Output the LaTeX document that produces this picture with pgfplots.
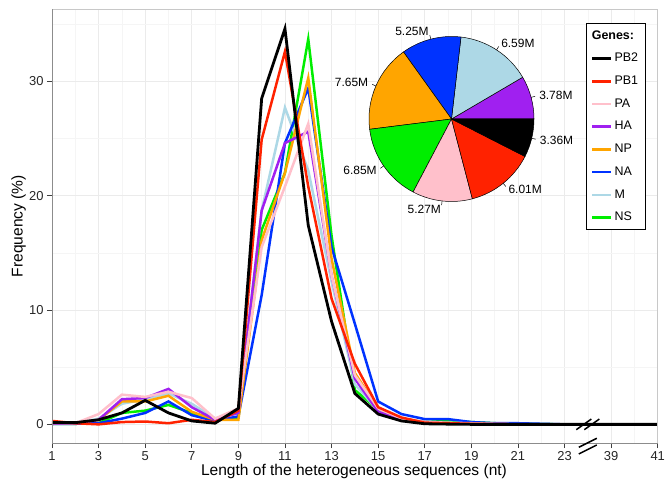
\documentclass[border=0pt]{standalone}
\usepackage{pgfplots}
\usepackage{pgfplotstable}
\pgfplotsset{compat=1.18}
\usepackage{fontspec}
\setmainfont{Liberation Sans}
\usetikzlibrary{calc}

\definecolor{cPB2}{HTML}{000000}
\definecolor{cPB1}{HTML}{FF2200}
\definecolor{cPA}{HTML}{FFC0CB}
\definecolor{cHA}{HTML}{A020F0}
\definecolor{cNP}{HTML}{FFA500}
\definecolor{cNA}{HTML}{0033FF}
\definecolor{cM}{HTML}{ADD8E6}
\definecolor{cNS}{HTML}{00EE00}
\definecolor{gridmaj}{HTML}{EBEBEB}
\definecolor{gridmin}{HTML}{F5F5F5}
\definecolor{frameg}{HTML}{C8C8C8}
\definecolor{axisg}{HTML}{8C8C8C}

% p = plotting position (25 -> 39 nt, 27 -> 41 nt)
\pgfplotstableread{
p  PB2  PB1  PA   HA   NP   NA   M    NS
1  0.15 0.30 0.10 0.05 0.05 0.05 0.05 0.05
2  0.15 0.10 0.10 0.10 0.10 0.05 0.10 0.05
3  0.40 0.00 0.90 0.40 0.40 0.10 0.50 0.10
4  1.00 0.20 2.60 2.20 2.00 0.50 1.80 1.00
5  2.10 0.25 2.40 2.30 2.00 1.00 2.20 1.20
6  1.00 0.10 2.85 3.10 2.50 2.00 2.70 1.70
7  0.30 0.40 2.30 1.50 1.10 0.80 1.80 1.00
8  0.10 0.20 0.50 0.40 0.40 0.30 0.50 0.40
9  1.40 1.20 1.40 1.00 0.40 0.70 1.20 0.60
10 28.5 24.9 15.5 18.7 16.1 11.3 18.7 17.0
11 34.6 32.6 20.8 24.6 22.0 24.6 27.7 22.0
12 17.4 20.8 26.3 25.6 30.3 29.4 22.2 33.7
13 9.0  11.0 13.0 13.0 14.5 15.5 12.5 16.5
14 2.7  5.3  4.3  4.0  4.5  8.8  3.5  3.0
15 0.9  1.5  1.4  1.1  1.4  2.0  1.2  1.3
16 0.3  0.6  0.5  0.4  0.5  0.9  0.4  0.4
17 0.05 0.15 0.20 0.20 0.20 0.46 0.15 0.20
18 0.02 0.10 0.15 0.10 0.10 0.46 0.10 0.30
19 0.00 0.05 0.10 0.05 0.05 0.20 0.05 0.20
20 0.00 0.02 0.05 0.02 0.02 0.10 0.02 0.10
21 0.00 0.00 0.02 0.00 0.00 0.10 0.00 0.05
22 0.00 0.00 0.00 0.00 0.00 0.05 0.00 0.02
23 0.00 0.00 0.00 0.00 0.00 0.00 0.00 0.00
25 0.00 0.00 0.00 0.00 0.00 0.00 0.00 0.00
27 0.00 0.00 0.00 0.00 0.00 0.00 0.00 0.00
}\freq

\newcommand\piefont{\fontsize{12}{14}\selectfont}
% start angle, end angle, colour, label, anchor
\newcommand\slice[5]{%
  \filldraw[fill=#3, draw=black, line width=0.5bp] (axis cs:0,0) -- (axis cs:{cos(#1)},{sin(#1)}) arc[start angle=#1, end angle=#2, radius=82.5bp] -- cycle;
  \draw[black, line width=0.5bp] (axis cs:{cos((#1+#2)/2)},{sin((#1+#2)/2)}) -- (axis cs:{1.05*cos((#1+#2)/2)},{1.05*sin((#1+#2)/2)});
  \node[anchor=#5, inner sep=0pt, font=\piefont] at (axis cs:{1.1*cos((#1+#2)/2)},{1.1*sin((#1+#2)/2)}) {#4};
}

\begin{document}
\begin{tikzpicture}
\useasboundingbox (0,0) rectangle (665bp,484bp);
% pie values (millions): HA M NA NP NS PA PB1 PB2
\pgfmathsetmacro\pieTot{3.78+6.59+5.25+7.65+6.85+5.27+6.01+3.36}
\pgfmathsetmacro\aA{0}
\pgfmathsetmacro\aB{\aA+360*3.78/\pieTot}
\pgfmathsetmacro\aC{\aB+360*6.59/\pieTot}
\pgfmathsetmacro\aD{\aC+360*5.25/\pieTot}
\pgfmathsetmacro\aE{\aD+360*7.65/\pieTot}
\pgfmathsetmacro\aF{\aE+360*6.85/\pieTot}
\pgfmathsetmacro\aG{\aF+360*5.27/\pieTot}
\pgfmathsetmacro\aH{\aG+360*6.01/\pieTot}
\pgfmathsetmacro\aI{\aH+360*3.36/\pieTot}

\begin{axis}[
  name=main,
  at={(52bp,41bp)}, anchor=south west,
  scale only axis, width=605.7bp, height=433.7bp,
  xmin=1, xmax=27, ymin=-1.63, ymax=36.3,
  xtick={1,3,5,7,9,11,13,15,17,19,21,23,25,27},
  xticklabels={1,3,5,7,9,11,13,15,17,19,21,23,39,41},
  minor xtick={2,4,...,26},
  ytick={0,10,20,30},
  minor ytick={5,15,25,35},
  grid=both,
  major grid style={draw=gridmaj, line width=0.7bp},
  minor grid style={draw=gridmin, line width=0.5bp},
  axis line style={draw=none},
  tick pos=left,
  tick align=outside,
  major tick length=5bp,
  minor tick length=0pt,
  tick style={draw=black!75, line width=0.7bp},
  /pgf/number format/assume math mode=true,
  tick label style={font=\fontsize{13}{15}\selectfont, text=black!85},
  xlabel={Length of the heterogeneous sequences (nt)},
  ylabel={Frequency (\%)},
  label style={font=\fontsize{15.6}{18}\selectfont},
  xlabel style={at={(axis description cs:0.4986,0)}, anchor=base, yshift=-32bp},
  ylabel style={at={(axis description cs:-0.0553,0.5)}, anchor=center},
  clip=false,
  legend cell align=left,
  legend style={at={(rel axis cs:0.980,0.968)}, anchor=north east,
    draw=black, line width=0.9bp, fill=white,
    font=\fontsize{12.5}{14}\selectfont,
    row sep=3.2bp, inner xsep=5bp, inner ysep=2.5bp,
    nodes={text height=9bp, text depth=2.5bp, inner ysep=4bp}},
  legend image code/.code={\draw[#1, line width=2.5bp] (0bp,0bp) -- (19bp,0bp);},
]
\addlegendimage{legend image code/.code={\node[overlay, anchor=west, inner sep=0pt, font=\bfseries\fontsize{12.5}{14}\selectfont] at (-1bp,0bp) {Genes:};}}
\addlegendentry{}
\addlegendimage{cPB2}\addlegendentry{PB2}
\addlegendimage{cPB1}\addlegendentry{PB1}
\addlegendimage{cPA}\addlegendentry{PA}
\addlegendimage{cHA}\addlegendentry{HA}
\addlegendimage{cNP}\addlegendentry{NP}
\addlegendimage{cNA}\addlegendentry{NA}
\addlegendimage{cM}\addlegendentry{M}
\addlegendimage{cNS}\addlegendentry{NS}

\addplot[cNS,  line width=2.5bp, forget plot] table[x=p, y=NS]  {\freq};
\addplot[cM,   line width=2.5bp, forget plot] table[x=p, y=M]   {\freq};
\addplot[cNA,  line width=2.5bp, forget plot] table[x=p, y=NA]  {\freq};
\addplot[cNP,  line width=2.5bp, forget plot] table[x=p, y=NP]  {\freq};
\addplot[cHA,  line width=2.5bp, forget plot] table[x=p, y=HA]  {\freq};
\addplot[cPA,  line width=2.5bp, forget plot] table[x=p, y=PA]  {\freq};
\addplot[cPB1, line width=2.5bp, forget plot] table[x=p, y=PB1] {\freq};
\addplot[cPB2, line width=2.8bp, forget plot] table[x=p, y=PB2] {\freq};

% panel frame
\draw[draw=frameg, line width=0.9bp] (rel axis cs:0,1) -- (rel axis cs:1,1) -- (rel axis cs:1,0);
\draw[draw=axisg, line width=0.9bp] (rel axis cs:0,1) -- (rel axis cs:0,0) -- (rel axis cs:1,0);

% axis break marks
\draw[black, line width=1.5bp, shift={(axis cs:24,0)}]
  (-11.5bp,-5.3bp) -- (3.5bp,5.3bp) (-3.5bp,-5.3bp) -- (11.5bp,5.3bp);
\draw[black, line width=1.5bp, shift={(rel axis cs:0.8846,0)}]
  (-9bp,-4.3bp) -- (9bp,4.7bp) (-9bp,-11bp) -- (9bp,-2bp);
\end{axis}

\begin{axis}[
  at={($(main.south west)+(399.5bp,324bp)$)}, anchor=center,
  hide axis, scale only axis,
  x=82.5bp, y=82.5bp,
  xmin=-1.3, xmax=1.3, ymin=-1.3, ymax=1.3,
  clip=false,
]
\slice{\aA}{\aB}{cHA}{3.78M}{west}
\slice{\aB}{\aC}{cM}{6.59M}{west}
\slice{\aC}{\aD}{cNA}{5.25M}{east}
\slice{\aD}{\aE}{cNP}{7.65M}{east}
\slice{\aE}{\aF}{cNS}{6.85M}{east}
\slice{\aF}{\aG}{cPA}{5.27M}{east}
\slice{\aG}{\aH}{cPB1}{6.01M}{west}
\slice{\aH}{\aI}{cPB2}{3.36M}{west}
\end{axis}
\end{tikzpicture}
\end{document}
